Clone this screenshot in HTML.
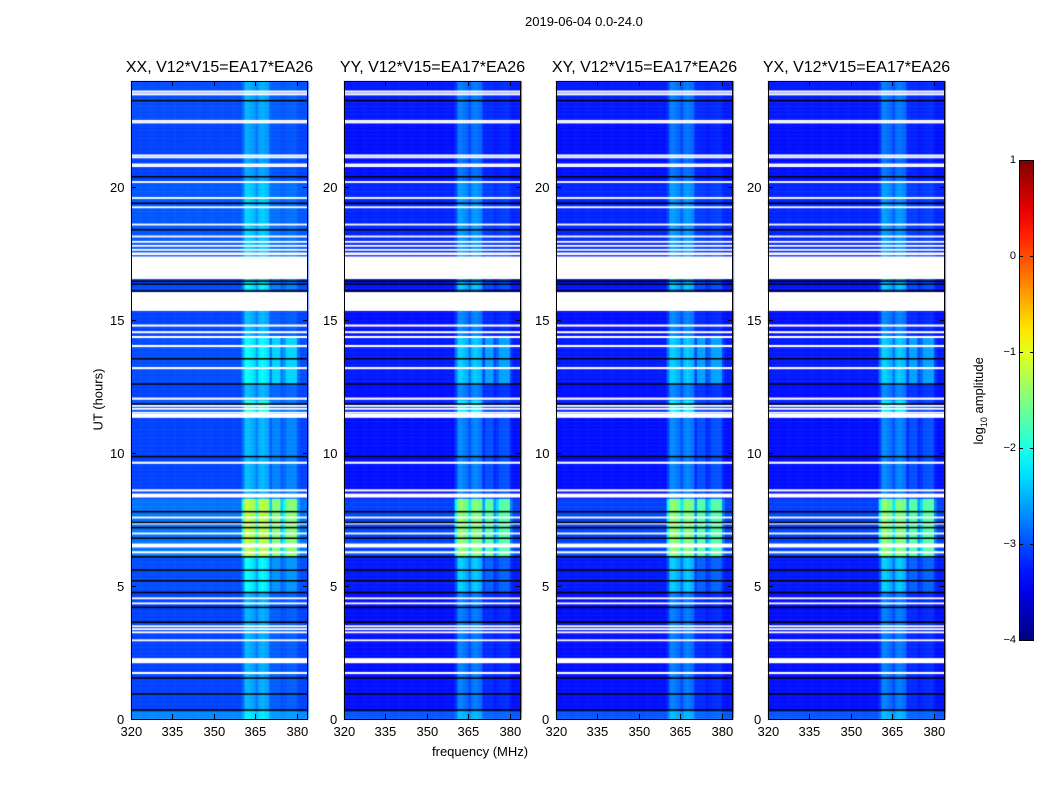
<!DOCTYPE html>
<html><head><meta charset="utf-8">
<style>
body{margin:0;background:#fff;font-family:"Liberation Sans",sans-serif;}
#wrap{position:relative;width:1050px;height:800px;overflow:hidden;background:#fff;}
.t{position:absolute;font-size:13px;color:#000;white-space:nowrap;}
.ttl{position:absolute;font-size:16px;color:#000;white-space:nowrap;transform:translateX(-50%);}
canvas{position:absolute;}
</style></head><body>
<div id="wrap">
<div class="t" style="left:525px;top:14px;">2019-06-04 0.0-24.0</div>
<div class="t" style="left:432px;top:744px;">frequency (MHz)</div>
<div class="t" style="left:60px;top:392px;transform:rotate(-90deg);transform-origin:center;width:76px;text-align:center;">UT (hours)</div>
<div class="t" style="left:930px;top:392px;transform:rotate(-90deg);width:100px;text-align:center;">log<sub style="font-size:9px">10</sub> amplitude</div>
<svg id="ov" width="1050" height="800" style="position:absolute;left:0;top:0"></svg>
</div>
<script>
// ---- data ----
const panelTitles = ["XX, V12*V15=EA17*EA26","YY, V12*V15=EA17*EA26","XY, V12*V15=EA17*EA26","YX, V12*V15=EA17*EA26"];
const panelBase = [-3.05, -3.3, -3.3, -3.3];
const panelBandGain = [1.0, 1.0, 1.0, 1.0];
const xTicks = [320,335,350,365,380];
const yTicks = [0,5,10,15,20];
const cbTicks = [1,0,-1,-2,-3,-4];
const cbLabels = ["1","0","\u22121","\u22122","\u22123","\u22124"];
// time segments: start hour, end hour, base offset, main-band boost, extra-band boost
const segStart = [0,   0.3, 4.8, 6.1, 8.3, 11.4, 12.0, 12.6, 14.4, 15.3, 16.2, 16.5, 17.5, 20.2, 22.5];
const segEnd   = [0.3, 4.8, 6.1, 8.3, 11.4,12.0, 12.6, 14.4, 15.3, 16.2, 16.5, 17.5, 20.2, 22.5, 24.0];
const segBase  = [0.35,0.0, 0.05,0.25,0.0, 0.1,  0.0,  0.05, 0.0,  0.0,  0.05, 0.05, 0.1,  0.0,  0.05];
const segMain  = [0.5, 0.55,0.9, 1.65,0.6, 1.1,  0.6,  0.9,  0.6,  0.6,  0.9,  0.6,  0.6,  0.5,  0.5];
const segExtra = [0.1, 0.15,0.4, 1.5, 0.35,0.2,  0.2,  0.75, 0.15, 0.1,  0.3,  0.3,  0.15, 0.1,  0.1];
// frequency profile (1 MHz bins, 320..383)
const freqMain = [0,0,0,0,0,0,0,0,0,0, 0,0,0,0,0,0,0,0,0,0, 0,0,0,0,0,0,0,0,0,0, 0,0,0,0,0,0,0,0,0,0, 0.3,1,1,0.9,0.8,0.5,0.9,1,0.9,0.8, 0.2,0,0,0,0,0,0,0,0,0, 0,0,0,0];
const freqExtra= [0,0,0,0,0,0,0,0,0,0, 0,0,0,0,0,0,0,0,0,0, 0,0,0,0,0,0,0,0,0,0, 0,0,0,0,0,0,0,0,0,0, 0.6,1,1,1,1,0.5,1,1,1,1, 0.3,0.9,0.9,0.9,0.3,0.5,0.9,0.9,0.9,0.9, 0.2,0,0,0];
// flagged rows (white) and gap rows (black): hour centre and width
const whiteH = [23.6,23.5,22.5,22.44,21.2,21.13,20.86,20.8,20.2,19.6,19.25,18.6,18.15,17.95,17.8,17.65,14.8,14.55,14.37,14.03,13.2,12.05,11.78,11.67,11.52,9.64,8.6,7.58,7.35,6.98,6.27,4.54,4.35,3.49,3.38,3.26,2.96,1.73];
const whiteW = [0.08,0.08,0.07,0.07,0.07,0.07,0.07,0.07,0.07,0.07,0.07,0.07,0.07,0.07,0.07,0.07,0.08,0.08,0.08,0.08,0.08,0.08,0.07,0.07,0.07,0.08,0.08,0.07,0.07,0.07,0.08,0.07,0.07,0.07,0.07,0.07,0.07,0.08];
const whiteBlockStart = [16.55, 15.35, 11.33, 8.33, 6.45, 2.1, 17.45];
const whiteBlockEnd   = [17.4, 16.06, 11.48, 8.48, 6.6, 2.29, 17.55];
const blackH = [23.26,20.4,19.4,18.4,16.47,16.36,16.1,13.55,12.6,11.85,9.87,7.8,7.39,7.2,6.8,6.1,5.6,5.2,4.76,4.2,3.64,1.54,0.94,0.34];

// ---- geometry ----
const panelX = [131,344,556,768];
const PW = 177, PY = 81, PH = 638;
const fMin = 320, fMax = 384, hMax = 24;
function xScale(p,f){return panelX[p] + (f-fMin)/(fMax-fMin)*PW;}
function yScale(h){return PY + PH - h/hMax*PH;}
function jet(v){ // v in [-4,1]
  let t=(v+4)/5; t=Math.max(0,Math.min(1,t));
  const r=Math.min(Math.max(Math.min(4*t-1.5,-4*t+4.5),0),1);
  const g=Math.min(Math.max(Math.min(4*t-0.5,-4*t+3.5),0),1);
  const b=Math.min(Math.max(Math.min(4*t+0.5,-4*t+2.5),0),1);
  return `rgb(${Math.round(r*255)},${Math.round(g*255)},${Math.round(b*255)})`;
}
const wrap=document.getElementById('wrap');
const ov=document.getElementById('ov');
const NS='http://www.w3.org/2000/svg';
function sv(tag,attrs){const e=document.createElementNS(NS,tag);for(const k in attrs)e.setAttribute(k,attrs[k]);ov.appendChild(e);return e;}
const dt=0.05;
for(let p=0;p<4;p++){
  const cv=document.createElement('canvas');
  
  
  cv.width=1050;cv.height=800;cv.style.left='0';cv.style.top='0';
  wrap.insertBefore(cv,ov);
  const c=cv.getContext('2d');
  for(let s=0;s<segStart.length;s++){
    for(let h=segStart[s];h<segEnd[s]-1e-9;h+=dt){
      const h2=Math.min(h+dt,segEnd[s]);
      const y1=yScale(h2),y2=yScale(h);
      for(let i=0;i<freqMain.length;i++){
        const v=panelBase[p]+segBase[s]+panelBandGain[p]*Math.max(segMain[s]*freqMain[i],segExtra[s]*freqExtra[i]);
        c.fillStyle=jet(v);
        const x1=xScale(p,fMin+i),x2=xScale(p,fMin+i+1);
        c.fillRect(x1,y1,x2-x1+0.5,y2-y1+0.5);
      }
    }
  }
  const xa=panelX[p];
  c.fillStyle='#fff';
  for(let k=0;k<whiteBlockStart.length;k++){const y1=yScale(whiteBlockEnd[k]),y2=yScale(whiteBlockStart[k]);c.fillRect(xa,y1,PW,y2-y1);}
  for(let k=0;k<whiteH.length;k++){const y1=yScale(whiteH[k]+whiteW[k]/2),y2=yScale(whiteH[k]-whiteW[k]/2);c.fillRect(xa,y1,PW,y2-y1);}
  c.fillStyle='#000';
  for(let k=0;k<blackH.length;k++){c.fillRect(xa,yScale(blackH[k])-0.75,PW,1.5);}
  const fr=sv('rect',{x:xa+0.5,y:PY+0.5,width:PW-1,height:PH,fill:'none',stroke:'#000','stroke-width':1});
  
  
  const tt=document.createElement('div');tt.className='ttl';tt.style.left=(xa+PW/2)+'px';tt.style.top='59px';tt.textContent=panelTitles[p];
  
  
  wrap.appendChild(tt);
  for(const f of xTicks){
    const x=Math.round(xScale(p,f))+0.5;
    sv('line',{x1:x,x2:x,y1:PY+PH,y2:PY+PH-5,stroke:'#000'});
    sv('line',{x1:x,x2:x,y1:PY,y2:PY+5,stroke:'#000'});
    const l=document.createElement('div');l.className='t';l.textContent=f;
    
    
    l.style.left=(x-11)+'px';l.style.top=(PY+PH+5)+'px';wrap.appendChild(l);
  }
  for(const h of yTicks){
    const y=Math.round(yScale(h))+0.5;
    sv('line',{x1:xa,x2:xa+5,y1:y,y2:y,stroke:'#000'});
    sv('line',{x1:xa+PW,x2:xa+PW-5,y1:y,y2:y,stroke:'#000'});
    const l=document.createElement('div');l.className='t';l.textContent=h;
    
    
    l.style.left=(xa-6-(h>=10?15:8))+'px';l.style.top=(y-8)+'px';wrap.appendChild(l);
  }
}
// colorbar
const CBX=1019,CBY=160,CBW=15,CBH=480;
const defs=sv('defs',{});
const lg=document.createElementNS(NS,'linearGradient');lg.setAttribute('id','jg');lg.setAttribute('x1','0');lg.setAttribute('y1','1');lg.setAttribute('x2','0');lg.setAttribute('y2','0');
defs.appendChild(lg);
for(let k=0;k<=20;k++){const st=document.createElementNS(NS,'stop');st.setAttribute('offset',k/20);st.setAttribute('stop-color',jet(-4+5*k/20));lg.appendChild(st);}
const cb=sv('rect',{x:CBX+0.5,y:CBY+0.5,width:CBW-1,height:CBH,fill:'url(#jg)',stroke:'#000'});


for(let k=0;k<cbTicks.length;k++){
  const y=Math.round(CBY+CBH-(cbTicks[k]+4)/5*CBH)+0.5;
  sv('line',{x1:CBX,x2:CBX+4,y1:y,y2:y,stroke:'#000'});
  sv('line',{x1:CBX+CBW,x2:CBX+CBW-4,y1:y,y2:y,stroke:'#000'});
  const l=document.createElement('div');l.className='t';l.style.fontSize='11px';l.textContent=cbLabels[k];
  
  
  l.style.right=(1050-CBX+3)+'px';l.style.top=(y-7)+'px';wrap.appendChild(l);
}
</script>
</body></html>
